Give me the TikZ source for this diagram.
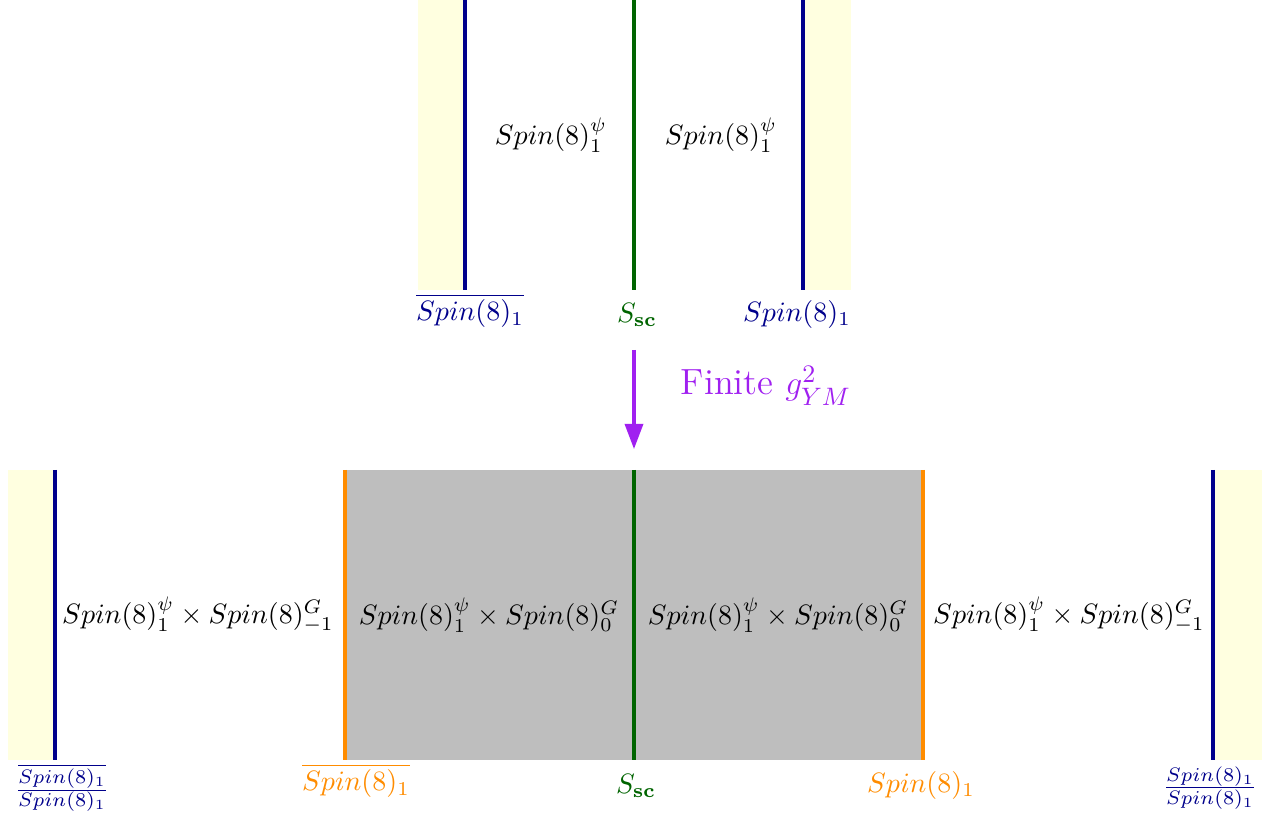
\documentclass[tikz,border=0pt]{standalone}
\usepackage{amsmath,amssymb}
\usepackage{xcolor}
\usetikzlibrary{
  arrows.meta,
  positioning
}
\definecolor{wallblue}{RGB}{0,0,139}
\definecolor{scgreen}{RGB}{0,100,0}
\definecolor{ifaceorange}{RGB}{255,140,0}
\definecolor{flowpurple}{RGB}{160,32,240}
\definecolor{bdyyellow}{RGB}{255,255,224}
\definecolor{phasegray}{RGB}{190,190,190}
\tikzset{
  bdy/.style={fill=bdyyellow,draw=none},
  phase/.style={fill=phasegray,draw=none},
  wall/.style={line width=1.1pt,draw=wallblue},
  iface/.style={line width=1.1pt,draw=ifaceorange},
  scwall/.style={line width=1.1pt,draw=scgreen},
  tqft/.style={inner sep=0pt,font=\normalsize},
  walllab/.style={inner sep=1pt,text=wallblue},
  ifacelab/.style={inner sep=1pt,text=ifaceorange},
  sclab/.style={inner sep=1pt,text=scgreen},
  flowlab/.style={inner sep=1pt,text=flowpurple,
    font=\fontsize{13}{15}\selectfont},
  rgflow/.style={-{Triangle[length=9pt,width=6.5pt]},
    line width=1.1pt,draw=flowpurple}
}

\begin{document}
\begin{tikzpicture}[x=0.357pt,y=-0.357pt]
  \useasboundingbox (0,0) rectangle (1271,818);
  % free theory, top
  \fill[bdy] (418,0) rectangle (465,290);
  \fill[bdy] (803,0) rectangle (851,290);
  \coordinate (tl1) at (465,0);   \coordinate (tl2) at (465,290);
  \coordinate (tc1) at (634,0);   \coordinate (tc2) at (634,290);
  \coordinate (tr1) at (803,0);   \coordinate (tr2) at (803,290);
  \draw[wall] (tl1)--(tl2);
  \draw[scwall] (tc1)--(tc2);
  \draw[wall] (tr1)--(tr2);
  \node[tqft] (tphl) at (551,135) {$Spin(8)_1^\psi$};
  \node[tqft] (tphr) at (721,135) {$Spin(8)_1^\psi$};
  \node[walllab] (tlab) at (470,311) {$\overline{Spin(8)_1}$};
  \node[sclab] (tsc) at (637,315) {$S_{\mathbf{sc}}$};
  \node[walllab] (trb) at (797,314) {$Spin(8)_1$};
  % deformation
  \coordinate (flowtop) at (634,350);
  \coordinate (flowbot) at (634,449);
  \draw[rgflow] (flowtop)--(flowbot);
  \node[flowlab] (flow) at (766,386) {Finite $g^2_{YM}$};
  % gauged theory, bottom
  \fill[bdy] (8,470) rectangle (55,760);
  \fill[bdy] (1213,470) rectangle (1262,760);
  \fill[phase] (345,470) rectangle (923,760);
  \coordinate (bl1) at (55,470);    \coordinate (bl2) at (55,760);
  \coordinate (bo1) at (345,470);   \coordinate (bo2) at (345,760);
  \coordinate (bc1) at (634,470);   \coordinate (bc2) at (634,760);
  \coordinate (bp1) at (923,470);   \coordinate (bp2) at (923,760);
  \coordinate (br1) at (1213,470);  \coordinate (br2) at (1213,760);
  \draw[wall] (bl1)--(bl2);
  \draw[iface] (bo1)--(bo2);
  \draw[scwall] (bc1)--(bc2);
  \draw[iface] (bp1)--(bp2);
  \draw[wall] (br1)--(br2);
  \node[tqft] (bph1) at (198,615) {$Spin(8)_1^\psi\times Spin(8)_{-1}^G$};
  \node[tqft] (bph2) at (489,615) {$Spin(8)_1^\psi\times Spin(8)_{0}^G$};
  \node[tqft] (bph3) at (778,615) {$Spin(8)_1^\psi\times Spin(8)_{0}^G$};
  \node[tqft] (bph4) at (1069,615) {$Spin(8)_1^\psi\times Spin(8)_{-1}^G$};
  \node[walllab] (blab) at (62,788) {$\frac{\overline{Spin(8)_1}}{Spin(8)_1}$};
  \node[ifacelab] (bolab) at (356,781) {$\overline{Spin(8)_1}$};
  \node[sclab] (bsc) at (636,786) {$S_{\mathbf{sc}}$};
  \node[ifacelab] (bplab) at (921,785) {$Spin(8)_1$};
  \node[walllab] (brlab) at (1210,788) {$\frac{Spin(8)_1}{Spin(8)_1}$};
\end{tikzpicture}
\end{document}
